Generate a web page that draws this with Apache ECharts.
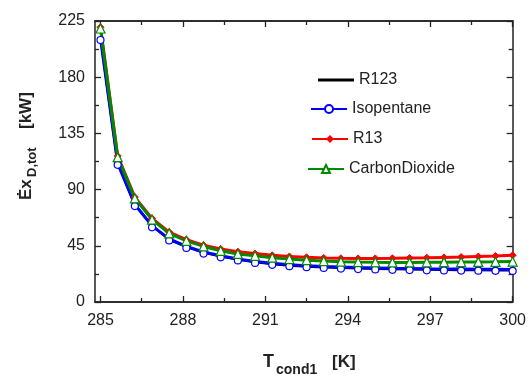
<!DOCTYPE html>
<html>
<head>
<meta charset="utf-8">
<script src="https://cdn.jsdelivr.net/npm/echarts@6/dist/echarts.min.js"></script>
<style>html,body{margin:0;padding:0;background:#fff}#c{width:529px;height:374px}</style>
</head>
<body>
<div id="c"></div>
<script>
// ---- data ----
var xs = [285, 285.625, 286.25, 286.875, 287.5, 288.125, 288.75, 289.375, 290, 290.625, 291.25, 291.875, 292.5, 293.125, 293.75, 294.375, 295, 295.625, 296.25, 296.875, 297.5, 298.125, 298.75, 299.375, 300];
var r123 = [212, 111, 78, 61, 50, 44.2, 39.6, 36.6, 34.0, 32.0, 30.5, 29.3, 28.5, 27.9, 27.4, 27.0, 26.7, 26.4, 26.2, 26.0, 25.8, 25.7, 25.6, 25.5, 25.4];
var isopentane = [211, 111, 78, 61, 50.5, 44.5, 40, 37, 34.5, 32.5, 31, 29.9, 29.1, 28.5, 28.0, 27.6, 27.3, 27.0, 26.8, 26.6, 26.5, 26.4, 26.3, 26.2, 26.1];
var r13 = [220, 117, 84, 67, 56, 50, 45.5, 42.5, 40.3, 38.8, 37.4, 36.5, 35.8, 35.3, 35.0, 34.9, 34.9, 35.0, 35.2, 35.4, 35.7, 36.0, 36.4, 36.8, 37.4];
var co2 = [219, 116, 83, 66, 55, 49, 44.5, 41, 38.5, 37, 35.5, 34.4, 33.5, 32.8, 32.3, 32.0, 31.8, 31.7, 31.7, 31.8, 31.9, 32.0, 32.1, 32.2, 32.4];
var seriesNames = ['R123', 'Isopentane', 'R13', 'CarbonDioxide'];
var xTicks = [285, 288, 291, 294, 297, 300];
var xMinorTicks = [286.5, 289.5, 292.5, 295.5, 298.5];
var yMin = 0, yMax = 225, yStep = 45;
var xMin = 284.8, xMax = 300;

function pairs(v) { return xs.map(function (x, i) { return [x, v[i]]; }); }

var FONT = 'Liberation Sans';
var AX = '#222';
function xAxisDef(pos, ticks, len, labels) {
  return {
    type: 'value', position: pos, min: xMin, max: xMax,
    axisLine: { show: true, onZero: false, lineStyle: { color: AX, width: 1.5 } },
    axisTick: { show: true, inside: true, length: len, customValues: ticks, lineStyle: { color: AX, width: 1.3 } },
    axisLabel: labels ? { show: true, customValues: ticks, fontFamily: FONT, fontSize: 16, color: AX, margin: 11 } : { show: false },
    splitLine: { show: false }
  };
}
function yAxisDef(pos, labels) {
  return {
    type: 'value', position: pos, min: yMin, max: yMax, interval: yStep,
    axisLine: { show: true, onZero: false, lineStyle: { color: AX, width: 1.5 } },
    axisTick: { show: true, inside: true, length: 6, lineStyle: { color: AX, width: 1.3 } },
    minorTick: { show: true, splitNumber: 2, length: 4, lineStyle: { color: AX, width: 1.3 } },
    axisLabel: labels ? { show: true, fontFamily: FONT, fontSize: 16, color: AX, margin: 10 } : { show: false },
    splitLine: { show: false }, minorSplitLine: { show: false }
  };
}

var legendTops = [67, 96, 126, 156];
var legendLefts = [313, 305, 306, 302];
var legends = seriesNames.map(function (n, i) {
  var item = i === 0 ? { name: n, icon: 'rect' } : { name: n };
  return {
    data: [item], left: legendLefts[i], top: legendTops[i], orient: 'vertical',
    itemWidth: 36, itemHeight: i === 0 ? 3 : 10, selectedMode: false,
    textStyle: { fontFamily: FONT, fontSize: 16, color: AX }
  };
});

var chart = echarts.init(document.getElementById('c'), null, { renderer: 'canvas' });
chart.setOption({
  animation: false,
  backgroundColor: '#fff',
  grid: { left: 95, right: 12, top: 21, bottom: 72, containLabel: false },
  legend: legends,
  xAxis: [
    xAxisDef('bottom', xTicks, 6, true),
    xAxisDef('bottom', xMinorTicks, 4, false),
    xAxisDef('top', xTicks, 6, false),
    xAxisDef('top', xMinorTicks, 4, false)
  ],
  yAxis: [yAxisDef('left', true), yAxisDef('right', false)],
  series: [
    { name: seriesNames[0], type: 'line', data: pairs(r123), symbol: 'none',
      lineStyle: { color: '#000', width: 2.5 }, itemStyle: { color: '#000' } },
    { name: seriesNames[1], type: 'line', data: pairs(isopentane), symbol: 'circle', symbolSize: 7, symbolOffset: [0, 1.5],
      lineStyle: { color: '#0000ff', width: 3 }, itemStyle: { color: '#fff', borderColor: '#0000ff', borderWidth: 1.2 } },
    { name: seriesNames[2], type: 'line', data: pairs(r13), symbol: 'diamond', symbolSize: 7,
      lineStyle: { color: '#ff0000', width: 3 }, itemStyle: { color: '#ff0000', borderColor: '#ff0000' } },
    { name: seriesNames[3], type: 'line', data: pairs(co2), symbol: 'triangle', symbolSize: 9,
      lineStyle: { color: '#008a00', width: 3 }, itemStyle: { color: '#fff', borderColor: '#008a00', borderWidth: 1.2 } }
  ],
  graphic: [
    { type: 'group', x: 0, y: 200, rotation: Math.PI / 2, silent: true, children: [
      { type: 'text', x: 0, y: 26, style: { text: 'Ėx', font: 'bold 17px ' + FONT, fill: AX, verticalAlign: 'middle', align: 'left' } },
      { type: 'text', x: 23, y: 32.5, style: { text: 'D,tot', font: 'bold 13px ' + FONT, fill: AX, verticalAlign: 'middle', align: 'left' } },
      { type: 'text', x: 71, y: 26, style: { text: '[kW]', font: 'bold 17px ' + FONT, fill: AX, verticalAlign: 'middle', align: 'left' } }
    ] },
    { type: 'text', x: 263, y: 362, silent: true, style: { text: 'T', font: 'bold 18px ' + FONT, fill: AX, verticalAlign: 'middle', align: 'left' } },
    { type: 'text', x: 276, y: 370, silent: true, style: { text: 'cond1', font: 'bold 14px ' + FONT, fill: AX, verticalAlign: 'middle', align: 'left' } },
    { type: 'text', x: 332, y: 362, silent: true, style: { text: '[K]', font: 'bold 17px ' + FONT, fill: AX, verticalAlign: 'middle', align: 'left' } }
  ]
});
</script>
</body>
</html>
